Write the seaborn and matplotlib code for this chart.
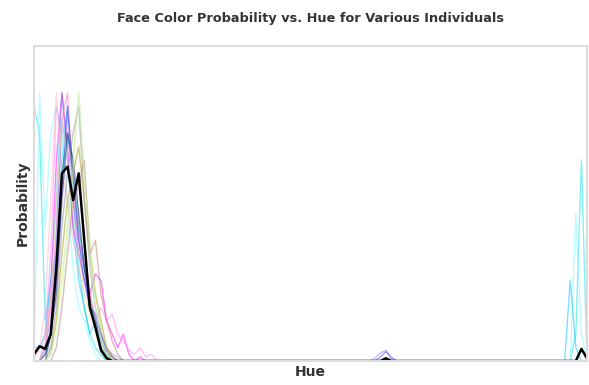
import numpy as np
import pandas as pd
import matplotlib
matplotlib.use("Agg")
import matplotlib.pyplot as plt
import seaborn as sns

# ---- data: hue histogram (100 bins over hue 0..1) per individual ----
N_BINS = 100
hue_bins = np.linspace(0.0, 1.0, N_BINS)

# leading bins (0..); remaining bins are zero except listed tails
cyan1_head = [0.19, 0.17, 0.03, 0.06, 0.08, 0.15, 0.19, 0.12, 0.07, 0.04, 0.02, 0.01, 0.004]
cyan1_tail = {97: 0.02, 98: 0.15}
aqua_head = [0.0, 0.20, 0.10, 0.17, 0.19, 0.17, 0.12, 0.07, 0.04, 0.03, 0.015, 0.005]
aqua_tail = {97: 0.11, 98: 0.02}
sky_head = [0.01, 0.01, 0.02, 0.06, 0.12, 0.20, 0.15, 0.10, 0.06, 0.04, 0.02, 0.03, 0.01, 0.003]
sky_tail = {96: 0.06, 97: 0.01}
magenta_head = [0.0, 0.0, 0.01, 0.05, 0.15, 0.20, 0.16, 0.10, 0.08, 0.06, 0.05, 0.065,
                0.06, 0.03, 0.02, 0.01, 0.02, 0.005, 0.0, 0.003]
violet_head = [0.0, 0.0, 0.02, 0.08, 0.19, 0.17, 0.18, 0.12, 0.09, 0.07, 0.05, 0.03,
               0.04, 0.03, 0.035, 0.02, 0.015, 0.008, 0.005, 0.01, 0.003, 0.005]
pink_head = [0.0, 0.01, 0.04, 0.12, 0.20, 0.14, 0.12, 0.09, 0.07, 0.05, 0.04, 0.03, 0.015, 0.005]
hotpink_head = [0.0, 0.0, 0.01, 0.04, 0.10, 0.18, 0.20, 0.13, 0.09, 0.07, 0.05, 0.03, 0.02,
                0.01, 0.004]
blue_head = [0.0, 0.0, 0.005, 0.02, 0.06, 0.13, 0.19, 0.14, 0.09, 0.06, 0.04, 0.035, 0.02,
             0.008, 0.003]
blue_tail = {62: 0.003, 63: 0.007, 64: 0.002}
purple_head = [0.0, 0.0, 0.01, 0.03, 0.09, 0.18, 0.15, 0.12, 0.08, 0.06, 0.04, 0.03, 0.02,
               0.01, 0.005, 0.003]
purple_tail = {61: 0.002, 62: 0.006, 63: 0.008, 64: 0.003}
navy_head = [0.0, 0.0, 0.0, 0.02, 0.05, 0.12, 0.17, 0.15, 0.11, 0.07, 0.04, 0.025, 0.01, 0.003]
olive_head = [0.0, 0.0, 0.0, 0.005, 0.03, 0.08, 0.12, 0.14, 0.16, 0.12, 0.08, 0.05, 0.03,
              0.01, 0.003]
ygreen_head = [0.0, 0.0, 0.0, 0.01, 0.03, 0.06, 0.10, 0.15, 0.20, 0.14, 0.09, 0.05, 0.025, 0.01]
rosy_head = [0.0, 0.0, 0.0, 0.0, 0.01, 0.04, 0.08, 0.12, 0.13, 0.15, 0.08, 0.09, 0.05,
             0.03, 0.015, 0.005]
teal_head = [0.0, 0.0, 0.005, 0.02, 0.07, 0.14, 0.17, 0.14, 0.10, 0.07, 0.045, 0.03, 0.015, 0.005]
khaki_head = [0.0, 0.0, 0.01, 0.05, 0.12, 0.18, 0.15, 0.11, 0.08, 0.05, 0.035, 0.02, 0.01, 0.003]
gray_head = [0.0, 0.0, 0.0, 0.01, 0.04, 0.10, 0.14, 0.17, 0.19, 0.12, 0.07, 0.04, 0.02, 0.008]
mint_head = [0.0, 0.0, 0.0, 0.005, 0.02, 0.05, 0.09, 0.14, 0.20, 0.14, 0.08, 0.04, 0.015, 0.005]
mean_head = [0.005, 0.011, 0.009, 0.02, 0.07, 0.14, 0.145, 0.12, 0.14, 0.09, 0.04, 0.025,
             0.008, 0.002]
mean_tail = {63: 0.002, 98: 0.009, 99: 0.002}

series = [
    ("cyan1", "#00e5ee", cyan1_head, cyan1_tail),
    ("aqua", "#7ff7ff", aqua_head, aqua_tail),
    ("sky", "#00bfff", sky_head, sky_tail),
    ("magenta", "#ff00ff", magenta_head, {}),
    ("violet", "#ff80ff", violet_head, {}),
    ("pink", "#ffb6c1", pink_head, {}),
    ("hotpink", "#ff69b4", hotpink_head, {}),
    ("blue", "#3333ff", blue_head, blue_tail),
    ("purple", "#8a7fff", purple_head, purple_tail),
    ("navy", "#000080", navy_head, {}),
    ("olive", "#9a9a00", olive_head, {}),
    ("ygreen", "#d0e070", ygreen_head, {}),
    ("rosy", "#c07878", rosy_head, {}),
    ("teal", "#008080", teal_head, {}),
    ("khaki", "#f0e68c", khaki_head, {}),
    ("gray", "#909090", gray_head, {}),
    ("mint", "#c8ffc8", mint_head, {}),
]


def full(head, tail):
    arr = np.zeros(N_BINS)
    arr[:len(head)] = head
    for k, v in tail.items():
        arr[k] = v
    return arr


rows = []
for name, _, head, tail in series:
    vals = full(head, tail)
    for h, p in zip(hue_bins, vals):
        rows.append((name, h, p))
df = pd.DataFrame(rows, columns=["individual", "Hue", "Probability"])
mean_df = pd.DataFrame({"Hue": hue_bins, "Probability": full(mean_head, mean_tail)})
palette = {name: color for name, color, _, _ in series}

# ---- plot ----
sns.set_style("white")
plt.rcParams["font.family"] = ["DejaVu Sans"]
fig = plt.figure(figsize=(5.89, 3.85), dpi=100)
ax = fig.add_axes([34 / 589, 1 - 361 / 385, (587 - 34) / 589, (361 - 46) / 385])

sns.lineplot(data=df, x="Hue", y="Probability", hue="individual", palette=palette,
             legend=False, linewidth=1.0, alpha=0.5, ax=ax)
sns.lineplot(data=mean_df, x="Hue", y="Probability", color="black", linewidth=1.8, ax=ax)

ax.set_xlim(0, 1)
ax.set_ylim(0, 0.235)
ax.set_xticks([])
ax.set_yticks([])
for s in ax.spines.values():
    s.set_color("#dcdcdc")
    s.set_linewidth(1.5)
ax.set_title("Face Color Probability vs. Hue for Various Individuals", fontsize=9.3,
             fontweight="bold", color="#333333", pad=17)
ax.set_xlabel("Hue", fontsize=10, fontweight="bold", color="#333333", labelpad=3)
ax.set_ylabel("Probability", fontsize=10, fontweight="bold", color="#333333", labelpad=3)

fig.savefig("out.png", dpi=100)
